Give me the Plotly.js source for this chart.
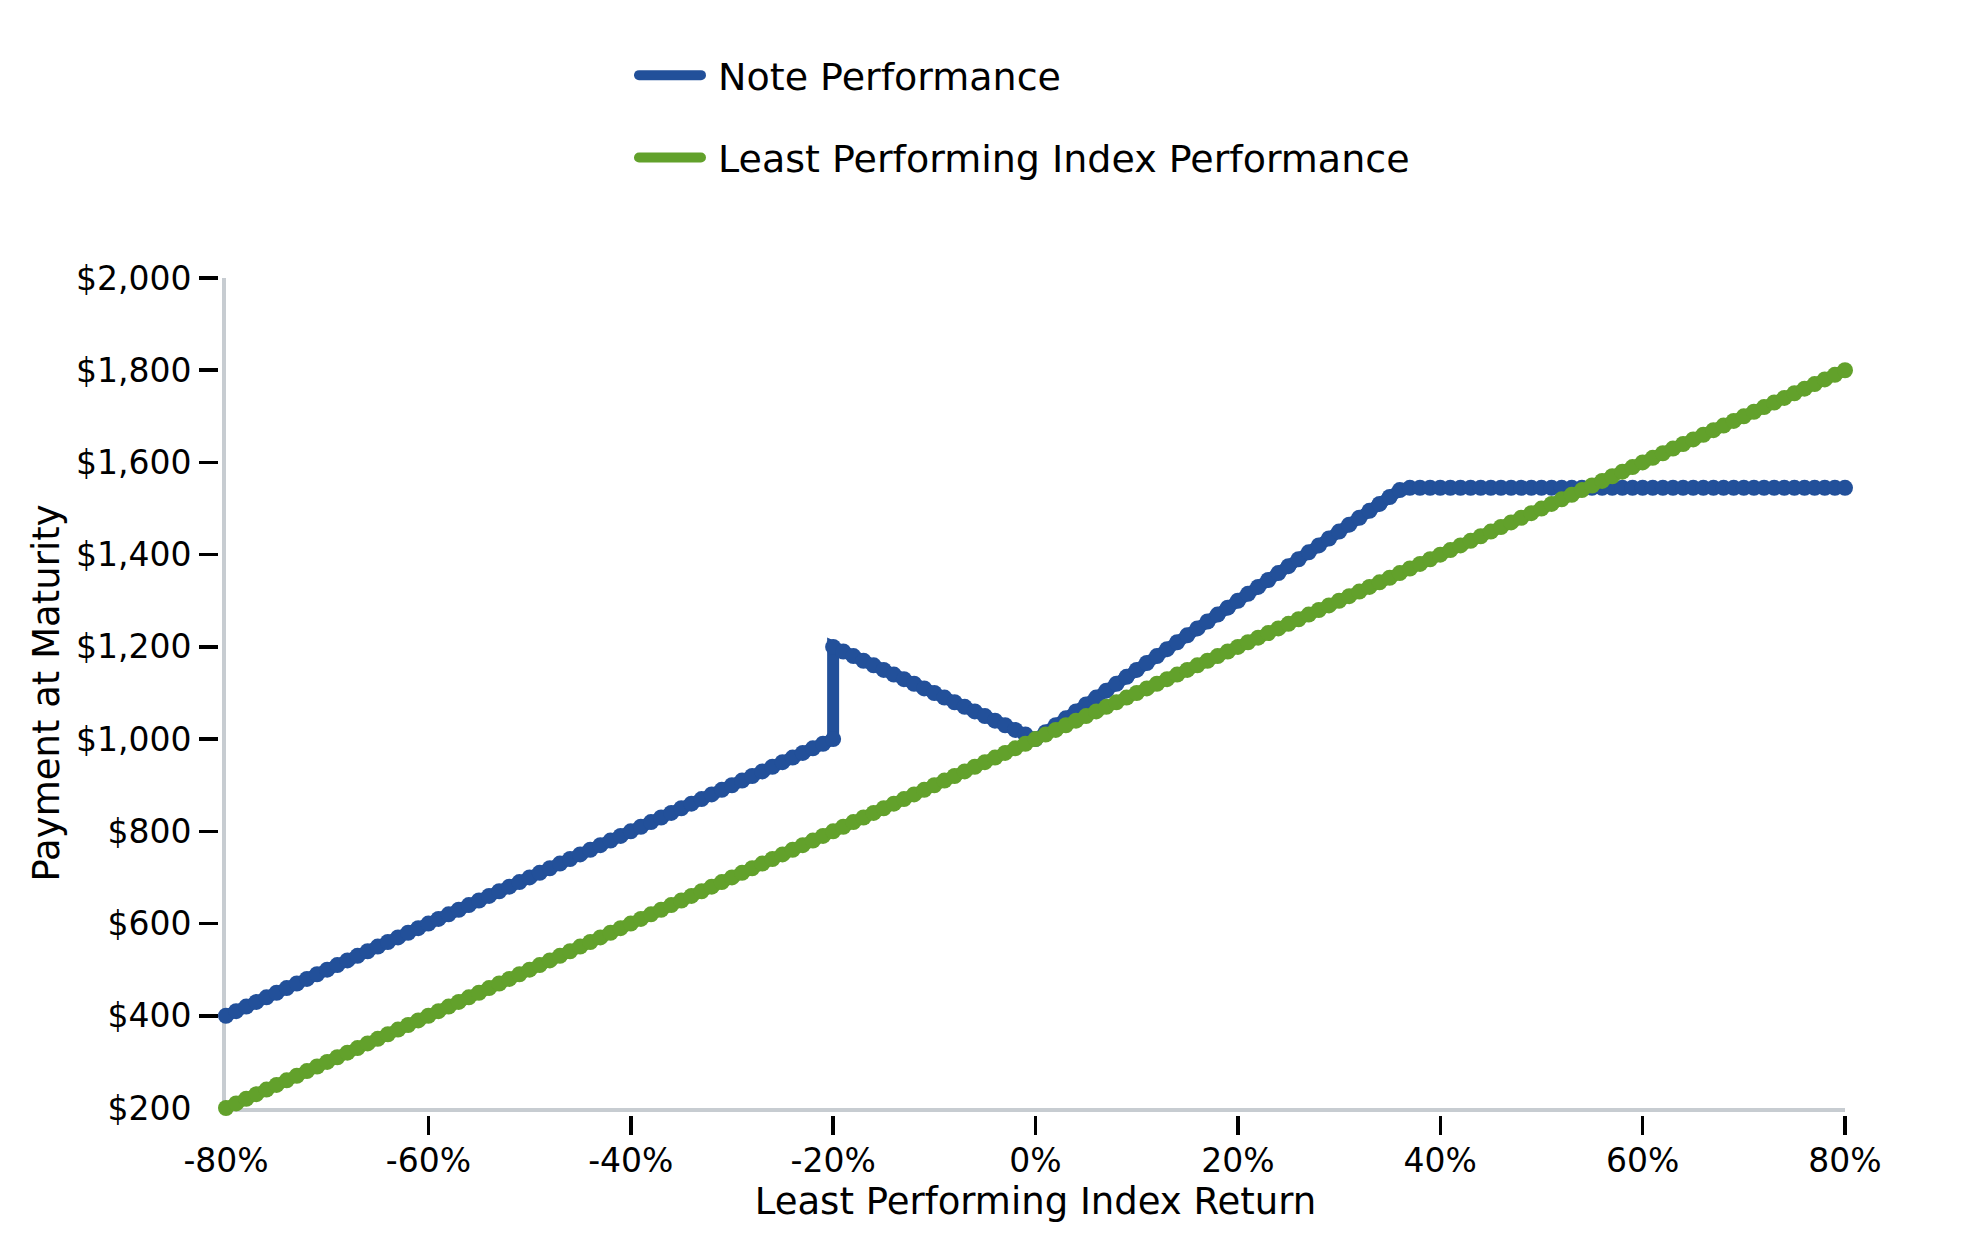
<!DOCTYPE html>
<html>
<head>
<meta charset="utf-8">
<script src="https://cdn.plot.ly/plotly-3.0.1.min.js"></script>
<style>
  html, body { margin: 0; padding: 0; background: #fff; }
  #chart { width: 1979px; height: 1250px; }
  .legend .js-line { stroke-linecap: round; }
</style>
</head>
<body>
<div id="chart"></div>
<script>
// ---- data (returns in %, payments in $) ----
const indexReturn = [
  -80,-79,-78,-77,-76,-75,-74,-73,-72,-71,
  -70,-69,-68,-67,-66,-65,-64,-63,-62,-61,
  -60,-59,-58,-57,-56,-55,-54,-53,-52,-51,
  -50,-49,-48,-47,-46,-45,-44,-43,-42,-41,
  -40,-39,-38,-37,-36,-35,-34,-33,-32,-31,
  -30,-29,-28,-27,-26,-25,-24,-23,-22,-21,
  -20,-19,-18,-17,-16,-15,-14,-13,-12,-11,
  -10,-9,-8,-7,-6,-5,-4,-3,-2,-1,
  0,1,2,3,4,5,6,7,8,9,
  10,11,12,13,14,15,16,17,18,19,
  20,21,22,23,24,25,26,27,28,29,
  30,31,32,33,34,35,36,37,38,39,
  40,41,42,43,44,45,46,47,48,49,
  50,51,52,53,54,55,56,57,58,59,
  60,61,62,63,64,65,66,67,68,69,
  70,71,72,73,74,75,76,77,78,79,
  80
];

const indexPayment = [
  200,210,220,230,240,250,260,270,280,290,
  300,310,320,330,340,350,360,370,380,390,
  400,410,420,430,440,450,460,470,480,490,
  500,510,520,530,540,550,560,570,580,590,
  600,610,620,630,640,650,660,670,680,690,
  700,710,720,730,740,750,760,770,780,790,
  800,810,820,830,840,850,860,870,880,890,
  900,910,920,930,940,950,960,970,980,990,
  1000,1010,1020,1030,1040,1050,1060,1070,1080,1090,
  1100,1110,1120,1130,1140,1150,1160,1170,1180,1190,
  1200,1210,1220,1230,1240,1250,1260,1270,1280,1290,
  1300,1310,1320,1330,1340,1350,1360,1370,1380,1390,
  1400,1410,1420,1430,1440,1450,1460,1470,1480,1490,
  1500,1510,1520,1530,1540,1550,1560,1570,1580,1590,
  1600,1610,1620,1630,1640,1650,1660,1670,1680,1690,
  1700,1710,1720,1730,1740,1750,1760,1770,1780,1790,
  1800
];

// the note jumps at -20%, so that return appears twice
const noteReturn = [
  -80,-79,-78,-77,-76,-75,-74,-73,-72,-71,
  -70,-69,-68,-67,-66,-65,-64,-63,-62,-61,
  -60,-59,-58,-57,-56,-55,-54,-53,-52,-51,
  -50,-49,-48,-47,-46,-45,-44,-43,-42,-41,
  -40,-39,-38,-37,-36,-35,-34,-33,-32,-31,
  -30,-29,-28,-27,-26,-25,-24,-23,-22,-21,
  -20,-20,-19,-18,-17,-16,-15,-14,-13,-12,-11,
  -10,-9,-8,-7,-6,-5,-4,-3,-2,-1,
  0,1,2,3,4,5,6,7,8,9,
  10,11,12,13,14,15,16,17,18,19,
  20,21,22,23,24,25,26,27,28,29,
  30,31,32,33,34,35,36,37,38,39,
  40,41,42,43,44,45,46,47,48,49,
  50,51,52,53,54,55,56,57,58,59,
  60,61,62,63,64,65,66,67,68,69,
  70,71,72,73,74,75,76,77,78,79,
  80
];

const notePayment = [
  400,410,420,430,440,450,460,470,480,490,
  500,510,520,530,540,550,560,570,580,590,
  600,610,620,630,640,650,660,670,680,690,
  700,710,720,730,740,750,760,770,780,790,
  800,810,820,830,840,850,860,870,880,890,
  900,910,920,930,940,950,960,970,980,990,
  1000,1200,1190,1180,1170,1160,1150,1140,1130,1120,1110,
  1100,1090,1080,1070,1060,1050,1040,1030,1020,1010,
  1000,1015,1030,1045,1060,1075,1090,1105,1120,1135,
  1150,1165,1180,1195,1210,1225,1240,1255,1270,1285,
  1300,1315,1330,1345,1360,1375,1390,1405,1420,1435,
  1450,1465,1480,1495,1510,1525,1540,1545,1545,1545,
  1545,1545,1545,1545,1545,1545,1545,1545,1545,1545,
  1545,1545,1545,1545,1545,1545,1545,1545,1545,1545,
  1545,1545,1545,1545,1545,1545,1545,1545,1545,1545,
  1545,1545,1545,1545,1545,1545,1545,1545,1545,1545,
  1545
];

const xTickVals = [-80, -60, -40, -20, 0, 20, 40, 60, 80];
const xTickText = ['-80%', '-60%', '-40%', '-20%', '0%', '20%', '40%', '60%', '80%'];
const yTickVals = [200, 400, 600, 800, 1000, 1200, 1400, 1600, 1800, 2000];
const yTickText = ['$200', '$400', '$600', '$800', '$1,000', '$1,200', '$1,400', '$1,600', '$1,800', '$2,000'];

const noteColor = '#22509a';
const indexColor = '#62a12b';
const spineColor = '#c7ccd1';
const FONT = 'DejaVu Sans, sans-serif';

// ---- traces: a line trace carries the legend, a marker trace gives the dotted look ----
const traces = [
  {
    x: noteReturn, y: notePayment, type: 'scatter', mode: 'lines',
    name: '\u00a0Note Performance', legendgroup: 'note',
    line: { color: noteColor, width: 12 }, cliponaxis: false,
  },
  {
    x: noteReturn, y: notePayment, type: 'scatter', mode: 'markers',
    legendgroup: 'note', showlegend: false,
    marker: { color: noteColor, size: 16 }, cliponaxis: false,
  },
  {
    x: indexReturn, y: indexPayment, type: 'scatter', mode: 'lines',
    name: '\u00a0Least Performing Index Performance', legendgroup: 'index',
    line: { color: indexColor, width: 12 }, cliponaxis: false,
  },
  {
    x: indexReturn, y: indexPayment, type: 'scatter', mode: 'markers',
    legendgroup: 'index', showlegend: false,
    marker: { color: indexColor, size: 16 }, cliponaxis: false,
  },
  // empty traces so the overlay tick axes get drawn
  { x: [], y: [], type: 'scatter', xaxis: 'x2', yaxis: 'y', showlegend: false, hoverinfo: 'skip' },
  { x: [], y: [], type: 'scatter', xaxis: 'x', yaxis: 'y2', showlegend: false, hoverinfo: 'skip' },
];

const layout = {
  width: 1979,
  height: 1250,
  margin: { l: 226, r: 134, t: 278, b: 142 },
  paper_bgcolor: '#fff',
  plot_bgcolor: '#fff',
  font: { family: FONT, size: 33, color: '#000' },
  showlegend: true,
  legend: {
    x: 0.252, xanchor: 'left', y: 1.282, yanchor: 'top',
    font: { family: FONT, size: 38, color: '#000' },
    traceorder: 'grouped', tracegroupgap: 30, itemwidth: 62,
    bgcolor: 'rgba(0,0,0,0)',
  },
  // main axes: spine + labels, invisible ticks only to place the labels
  xaxis: {
    range: [-80, 80], showgrid: false, zeroline: false, layer: 'below traces',
    showline: true, linecolor: spineColor, linewidth: 4,
    tickmode: 'array', tickvals: xTickVals, ticktext: xTickText,
    ticks: 'outside', ticklen: 20, tickcolor: 'rgba(0,0,0,0)',
    tickfont: { family: FONT, size: 33, color: '#000' },
    title: { text: 'Least Performing Index Return', standoff: 10, font: { family: FONT, size: 37, color: '#000' } },
  },
  yaxis: {
    range: [200, 2000], showgrid: false, zeroline: false, layer: 'below traces',
    showline: true, linecolor: spineColor, linewidth: 4,
    tickmode: 'array', tickvals: yTickVals, ticktext: yTickText,
    ticks: 'outside', ticklen: 24, tickcolor: 'rgba(0,0,0,0)',
    tickfont: { family: FONT, size: 33, color: '#000' },
    title: { text: 'Payment at Maturity', standoff: 6, font: { family: FONT, size: 37, color: '#000' } },
  },
  // overlay axes: the visible black ticks (no tick at the shared corner)
  xaxis2: {
    overlaying: 'x', anchor: 'y', side: 'bottom', range: [-80, 80],
    showgrid: false, zeroline: false, showticklabels: false,
    showline: true, linecolor: 'rgba(0,0,0,0)', linewidth: 8,
    tickmode: 'array', tickvals: xTickVals.slice(1),
    ticks: 'outside', ticklen: 19, tickwidth: 3.5, tickcolor: '#000',
  },
  yaxis2: {
    overlaying: 'y', anchor: 'x', side: 'left', range: [200, 2000],
    showgrid: false, zeroline: false, showticklabels: false,
    showline: true, linecolor: 'rgba(0,0,0,0)', linewidth: 8,
    tickmode: 'array', tickvals: yTickVals.slice(1),
    ticks: 'outside', ticklen: 19, tickwidth: 3.5, tickcolor: '#000',
  },
};

Plotly.newPlot('chart', traces, layout, { displayModeBar: false, staticPlot: true });
</script>
</body>
</html>
